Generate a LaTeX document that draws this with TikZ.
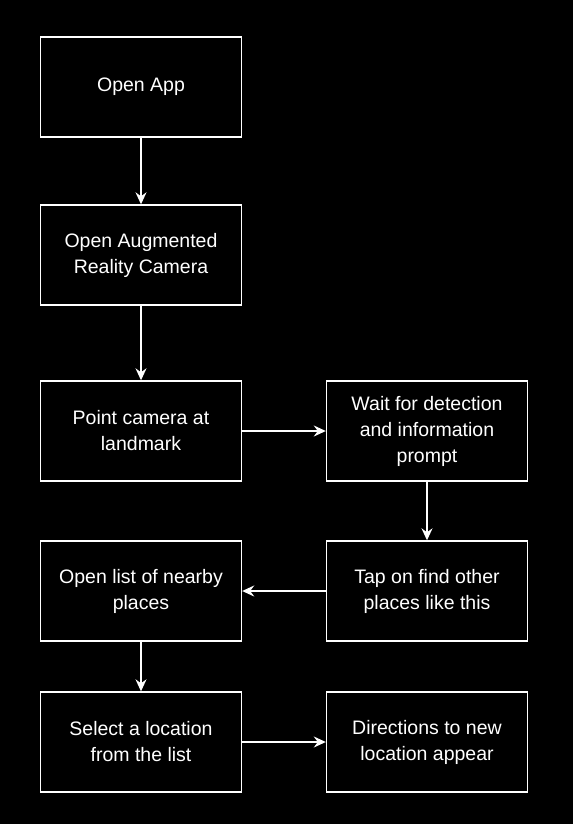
\documentclass[tikz,border=0pt]{standalone}
\usepackage{fontspec}
\setmainfont{Liberation Sans}
\usetikzlibrary{arrows.meta}
\begin{document}
\begin{tikzpicture}[x=1pt,y=-1pt,
  box/.style={draw=white, line width=1.4pt, fill=black, text=white,
    minimum width=201pt, minimum height=100pt, align=center, inner sep=0pt,
    font=\fontsize{19.5}{26}\selectfont},
  conn/.style={draw=white, line width=1.4pt,
    -{Stealth[length=12pt,width=11pt,inset=4pt,fill=white]}}]
\fill[black] (0,0) rectangle (573,824);
\useasboundingbox (0,0) rectangle (573,824);
\node[box] (a) at (141,87) {Open App};
\node[box] (b) at (141,255) {Open Augmented\\Reality Camera};
\node[box] (c) at (141,431) {Point camera at\\landmark};
\node[box] (d) at (427,431) {Wait for detection\\and information\\prompt};
\node[box] (e) at (427,591) {Tap on find other\\places like this};
\node[box] (f) at (141,591) {Open list of nearby\\places};
\node[box] (g) at (141,742) {Select a location\\from the list};
\node[box] (h) at (427,742) {Directions to new\\location appear};
\draw[conn] (a) -- (b);
\draw[conn] (b) -- (c);
\draw[conn] (c) -- (d);
\draw[conn] (d) -- (e);
\draw[conn] (e) -- (f);
\draw[conn] (f) -- (g);
\draw[conn] (g) -- (h);
\end{tikzpicture}
\end{document}
